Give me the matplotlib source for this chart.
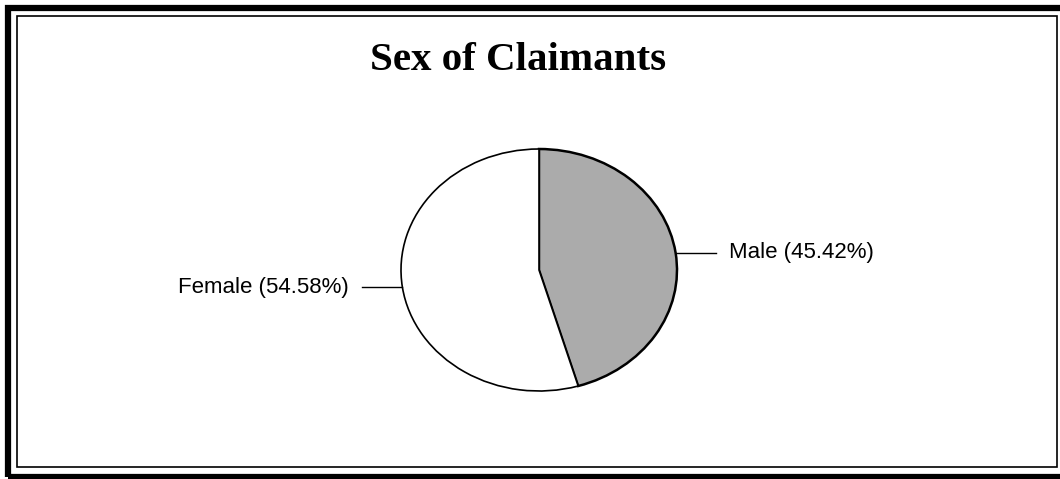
import matplotlib

matplotlib.use("Agg")
import matplotlib.pyplot as plt
from matplotlib.patches import Rectangle
import numpy as np

# data
labels = ["Male", "Female"]
shares = [45.42, 54.58]
colors = ["#ababab", "#ffffff"]
title = "Sex of Claimants"

W, H = 1060, 479
fig = plt.figure(figsize=(W / 100, H / 100), dpi=100)
fig.patch.set_facecolor("white")

# double frame round the chart
fig.patches.append(Rectangle((8 / W, 2 / H), (W + 10) / W, (H - 10) / H, transform=fig.transFigure,
                             fill=False, lw=4.5, ec="black"))
fig.patches.append(Rectangle((17 / W, (H - 467) / H), 1040 / W, 451 / H, transform=fig.transFigure,
                             fill=False, lw=1.2, ec="black"))

fig.text(518 / W, 1 - 60 / H, title, ha="center", va="center", fontsize=29.5,
         fontweight="bold", family="Liberation Serif")

# pie drawn as an ellipse: axes box is wider than tall, aspect left free
cx, cy, rx, ry = 539, 270, 138, 121
ax = fig.add_axes([(cx - rx) / W, 1 - (cy + ry) / H, 2 * rx / W, 2 * ry / H])
wedges, _ = ax.pie(shares, colors=colors, startangle=90, counterclock=False,
                   wedgeprops=dict(edgecolor="black", linewidth=1.2))
wedges[0].set_linewidth(1.8)
ax.set_aspect("auto")
ax.set_xlim(-1, 1)
ax.set_ylim(-1, 1)
ax.axis("off")

for w, lab, val in zip(wedges, labels, shares):
    mid = np.deg2rad((w.theta1 + w.theta2) / 2)
    x, y = np.cos(mid), np.sin(mid)
    side = 1 if x > 0 else -1
    ax.plot([x, side * 1.28], [y, y], color="black", lw=1, clip_on=False)
    ax.text(side * 1.38, y, f"{lab} ({val:.2f}%)", ha="left" if side > 0 else "right",
            va="center", fontsize=16, family="Liberation Sans")

fig.savefig("out.png", dpi=100)
